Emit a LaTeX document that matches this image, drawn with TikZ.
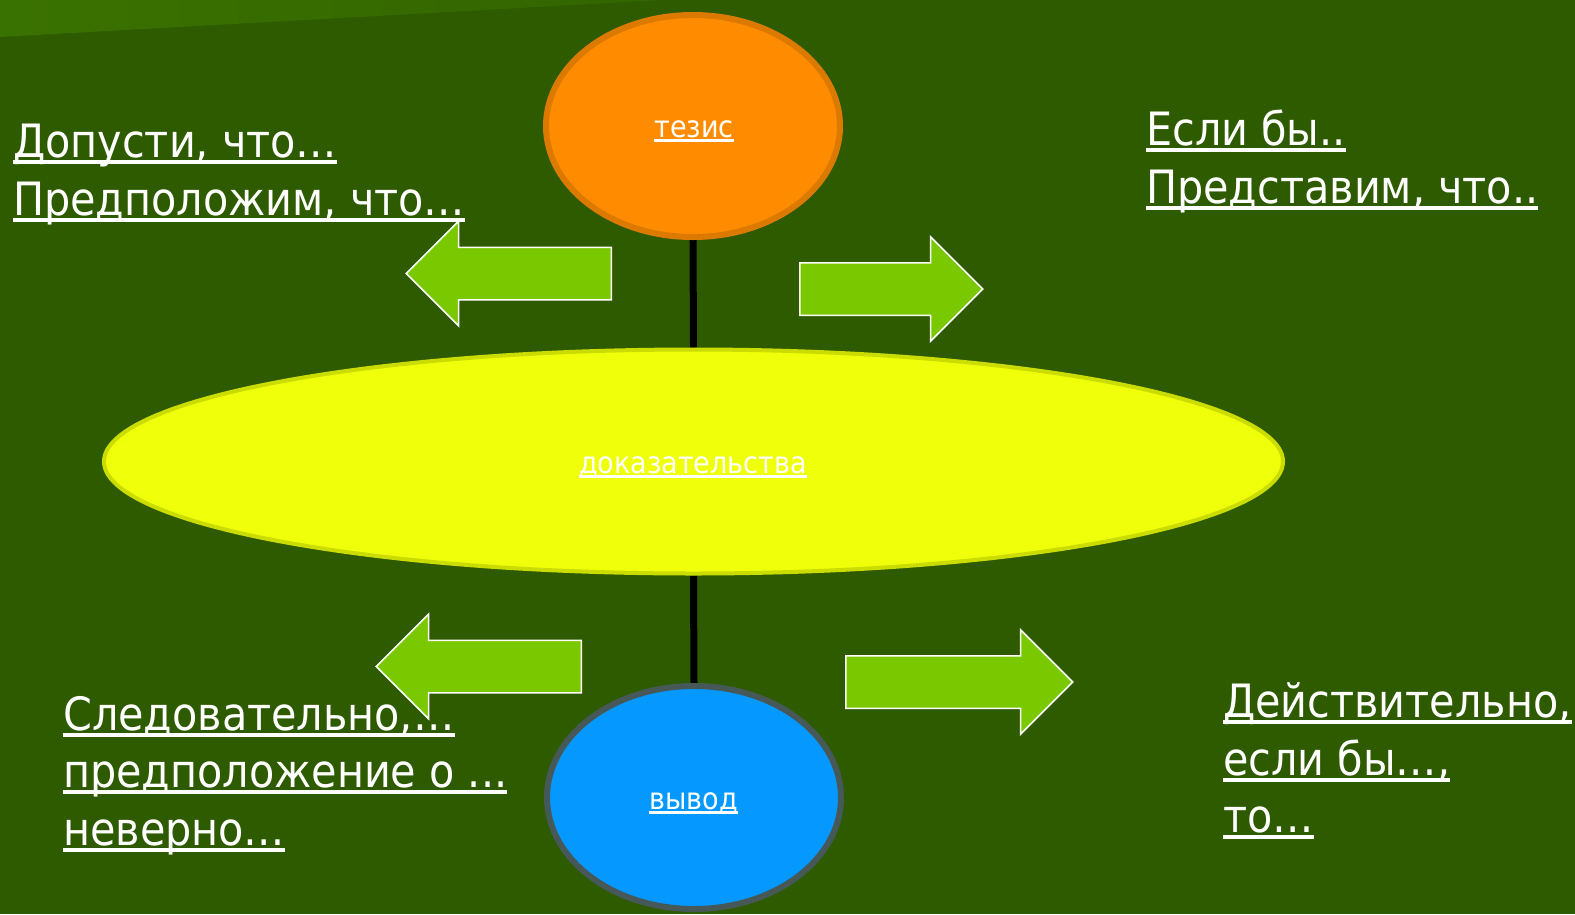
\documentclass[tikz,border=0pt]{standalone}
\usepackage{fontspec}
\usetikzlibrary{shapes.geometric,shapes.arrows,backgrounds}
\newfontfamily\tf{DejaVu Sans Condensed}
\definecolor{bg}{HTML}{2E5B00}
\definecolor{bandL}{HTML}{3A7200}
\definecolor{bandR}{HTML}{336500}
\definecolor{orfill}{HTML}{FF8C00}
\definecolor{ordraw}{HTML}{DC7A00}
\definecolor{yefill}{HTML}{F0FF0A}
\definecolor{yedraw}{HTML}{CADC00}
\definecolor{blfill}{HTML}{0599FF}
\definecolor{bldraw}{HTML}{465858}
\definecolor{arfill}{HTML}{7AC800}
\newcommand\ul[1]{\setbox2\hbox{#1}\rlap{\rule[-0.155em]{\wd2}{0.09em}}\box2}
\newcommand\fitsize[3]{\setbox0\hbox{\tf\fontsize{10}{12}\selectfont #3}\edef\tmpw{\the\wd0}\pgfmathsetmacro#1{10*#2/\tmpw}}
\fitsize\bigfs{452}{Предположим, что…}
\fitsize\smfs{228}{доказательства}
\tikzset{
  big/.style={anchor=base west, inner sep=0pt, text=white, font=\tf\fontsize{\bigfs}{\bigfs}\selectfont},
  lab/.style={anchor=base, inner sep=0pt, text=white, font=\tf\fontsize{\smfs}{\smfs}\selectfont},
  oval/.style={ellipse, inner sep=0pt},
  bar/.style={line width=7pt, black},
  barrow/.style={single arrow, fill=arfill, draw=white, line width=1.5pt, inner xsep=0pt, inner ysep=25.5pt,
    single arrow head extend=26pt, single arrow tip angle=90, minimum width=103pt, anchor=tail},
}
\begin{document}
\begin{tikzpicture}[x=1pt,y=-1pt]
\useasboundingbox (0,0) rectangle (1575,914);
\begin{scope}[on background layer]
  \fill[bg] (0,0) rectangle (1575,914);
  \shade[left color=bandL, right color=bandR] (0,0) -- (663,0) -- (0,37) -- cycle;
\end{scope}
% ellipses
\node[oval, fill=orfill, draw=ordraw, line width=6pt, minimum width=294pt, minimum height=222pt] (tezis) at (693,126) {};
\node[oval, fill=yefill, draw=yedraw, line width=4pt, minimum width=1179pt, minimum height=224pt] (dokaz) at (693.5,461.5) {};
\node[oval, fill=blfill, draw=bldraw, line width=6pt, minimum width=294pt, minimum height=223pt] (vyvod) at (694,797.5) {};
\begin{scope}[on background layer]
  \draw[bar] (tezis.south) -- (dokaz.north);
  \draw[bar] (dokaz.south) -- (vyvod.north);
\end{scope}
% labels
\node[lab] (ltezis) at (694,137) {\ul{тезис}};
\node[lab] (ldokaz) at (693,473) {\ul{доказательства}};
\node[lab] (lvyvod) at (693.5,809) {\ul{вывод}};
% texts
\node[big] (t1a) at (13,157) {\ul{Допусти, что…}};
\node[big] (t1b) at (13,215) {\ul{Предположим, что…}};
\node[big] (t2a) at (1146,145) {\ul{Если бы..}};
\node[big] (t2b) at (1146,203) {\ul{Представим, что..}};
\node[big] (t3a) at (63,730) {\ul{Следовательно,…}};
\node[big] (t3b) at (63,787) {\ul{предположение о ...}};
\node[big] (t3c) at (63,845) {\ul{неверно…}};
\node[big] (t4a) at (1223,717) {\ul{Действительно,}};
\node[big] (t4b) at (1223,775) {\ul{если бы…,}};
\node[big] (t4c) at (1223,832) {\ul{то…}};
% arrows
\node[barrow, minimum height=205pt, shape border rotate=180] (a1) at (612,273.5) {};
\node[barrow, minimum height=183pt] (a2) at (799,289) {};
\node[barrow, minimum height=205pt, shape border rotate=180] (a3) at (582,666.5) {};
\node[barrow, minimum height=227pt] (a4) at (845,682) {};
\end{tikzpicture}
\end{document}
